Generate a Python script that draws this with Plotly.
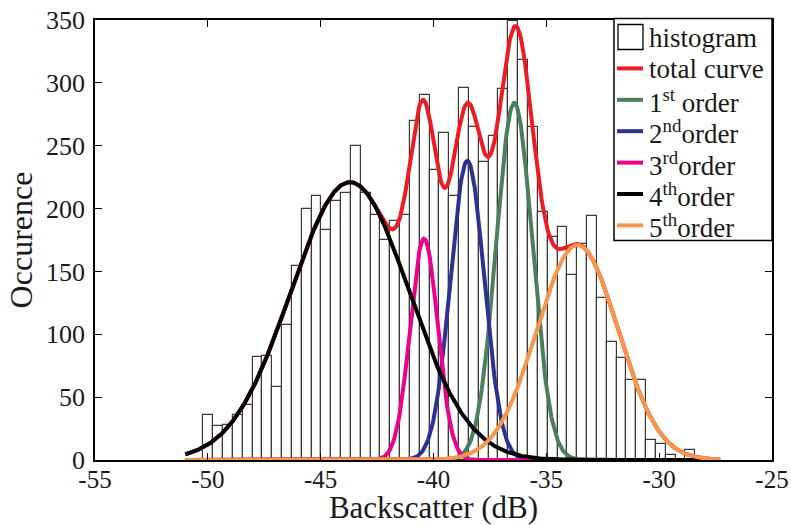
import numpy as np
import plotly.graph_objects as go

# Histogram counts (50 bins)
counts = [36, 27, 28, 36, 44, 82, 83, 58, 107, 154,
          200, 210, 183, 206, 212, 250, 212, 195, 175, 190,
          195, 270, 290, 231, 260, 210, 296, 265, 237, 258,
          295, 349, 318, 265, 197, 177, 185, 147, 172, 194,
          129, 94, 81, 64, 64, 16, 13, 4, 0, 8]
bin_start = -50.2
bin_width = 0.436

# Gaussian components
comp_names = ["1<sup>st</sup> order", "2<sup>nd</sup>order", "3<sup>rd</sup>order",
              "4<sup>th</sup>order", "5<sup>th</sup>order"]
comp_means = [-36.42, -38.50, -40.42, -43.70, -33.62]
comp_amps = [284, 238, 176, 221, 171]
comp_sigmas = [0.80, 0.75, 0.61, 2.62, 1.80]
comp_colors = ["#4b7d5f", "#2e3192", "#ec008c", "#000000", "#f7964a"]
curve_range = [-51.0, -27.3]
total_name = "total curve"
total_color = "#ed1c24"

x_ticks = [-55, -50, -45, -40, -35, -30, -25]
x_ticktext = ["-55", "-50", "-45", "-40", "-35", "-30", "-25"]
y_ticks = [0, 50, 100, 150, 200, 250, 300, 350]

centers = bin_start + bin_width * (np.arange(len(counts)) + 0.5)
xc = np.linspace(curve_range[0], curve_range[1], 600)
comps = [a * np.exp(-(xc - m) ** 2 / (2 * s ** 2))
         for m, a, s in zip(comp_means, comp_amps, comp_sigmas)]
total = np.sum(comps, axis=0)

FONT = "Liberation Serif"
TXT = "#1a1a1a"
fig = go.Figure()
fig.add_trace(go.Bar(x=centers, y=counts, width=bin_width, name="histogram", showlegend=False,
                     marker=dict(color="white", line=dict(color="#3a3a3a", width=1.2))))
fig.add_trace(go.Scatter(x=xc, y=total, mode="lines", name=total_name, showlegend=False,
                         line=dict(color=total_color, width=4)))
for name, col, yv in zip(comp_names, comp_colors, comps):
    fig.add_trace(go.Scatter(x=xc, y=yv, mode="lines", name=name, showlegend=False,
                             line=dict(color=col, width=4)))

# ---- hand-built legend box (MATLAB style) ----
L, R, T, B = 95, 772, 19.5, 459.5   # plot area in pixels
def fx(px):
    return (px - L) / (R - L)
def fy(py):
    return (B - py) / (B - T)

shapes = []
annotations = []
shapes.append(dict(type="rect", xref="paper", yref="paper", layer="above",
                   x0=fx(614), x1=fx(772), y0=fy(240), y1=fy(18),
                   fillcolor="white", line=dict(color="black", width=1.5)))
leg_names = ["histogram", total_name] + comp_names
leg_colors = [None, total_color] + comp_colors
for i, (nm, col) in enumerate(zip(leg_names, leg_colors)):
    cy = 36.5 + 31.4 * i
    if col is None:
        shapes.append(dict(type="rect", xref="paper", yref="paper", layer="above",
                           x0=fx(618), x1=fx(643), y0=fy(cy + 12.5), y1=fy(cy - 12.5),
                           fillcolor="white", line=dict(color="black", width=1.3)))
    else:
        shapes.append(dict(type="line", xref="paper", yref="paper", layer="above",
                           x0=fx(617), x1=fx(643), y0=fy(cy), y1=fy(cy),
                           line=dict(color=col, width=4)))
    annotations.append(dict(xref="paper", yref="paper", x=fx(647), y=fy(cy + 1),
                            xanchor="left", yanchor="middle", showarrow=False,
                            text=nm, font=dict(family=FONT, size=27, color=TXT)))

axis_common = dict(showline=True, linecolor="black", linewidth=1.5, mirror="ticks",
                   ticks="inside", ticklen=7, tickcolor="black", tickwidth=1.2,
                   showgrid=False, zeroline=False, automargin=False)
fig.update_layout(
    width=791, height=525,
    margin=dict(l=95, r=19, t=20, b=65),
    paper_bgcolor="white", plot_bgcolor="white",
    bargap=0, showlegend=False,
    font=dict(family=FONT, color=TXT),
    xaxis=dict(range=[-55, -25], tickvals=x_ticks, ticktext=x_ticktext, ticklabelstandoff=-4,
               tickfont=dict(family=FONT, size=25, color=TXT),
               title=dict(text="Backscatter (dB)", font=dict(family=FONT, size=31, color=TXT), standoff=13),
               **axis_common),
    yaxis=dict(range=[0, 350], tickvals=y_ticks, ticklabelstandoff=3,
               tickfont=dict(family=FONT, size=26, color=TXT),
               title=dict(text="Occurence", font=dict(family=FONT, size=32, color=TXT), standoff=4),
               **axis_common),
    shapes=shapes, annotations=annotations,
)
fig.write_html("out.html", config={"displayModeBar": False},
               post_script="document.body.style.margin='0px';")
